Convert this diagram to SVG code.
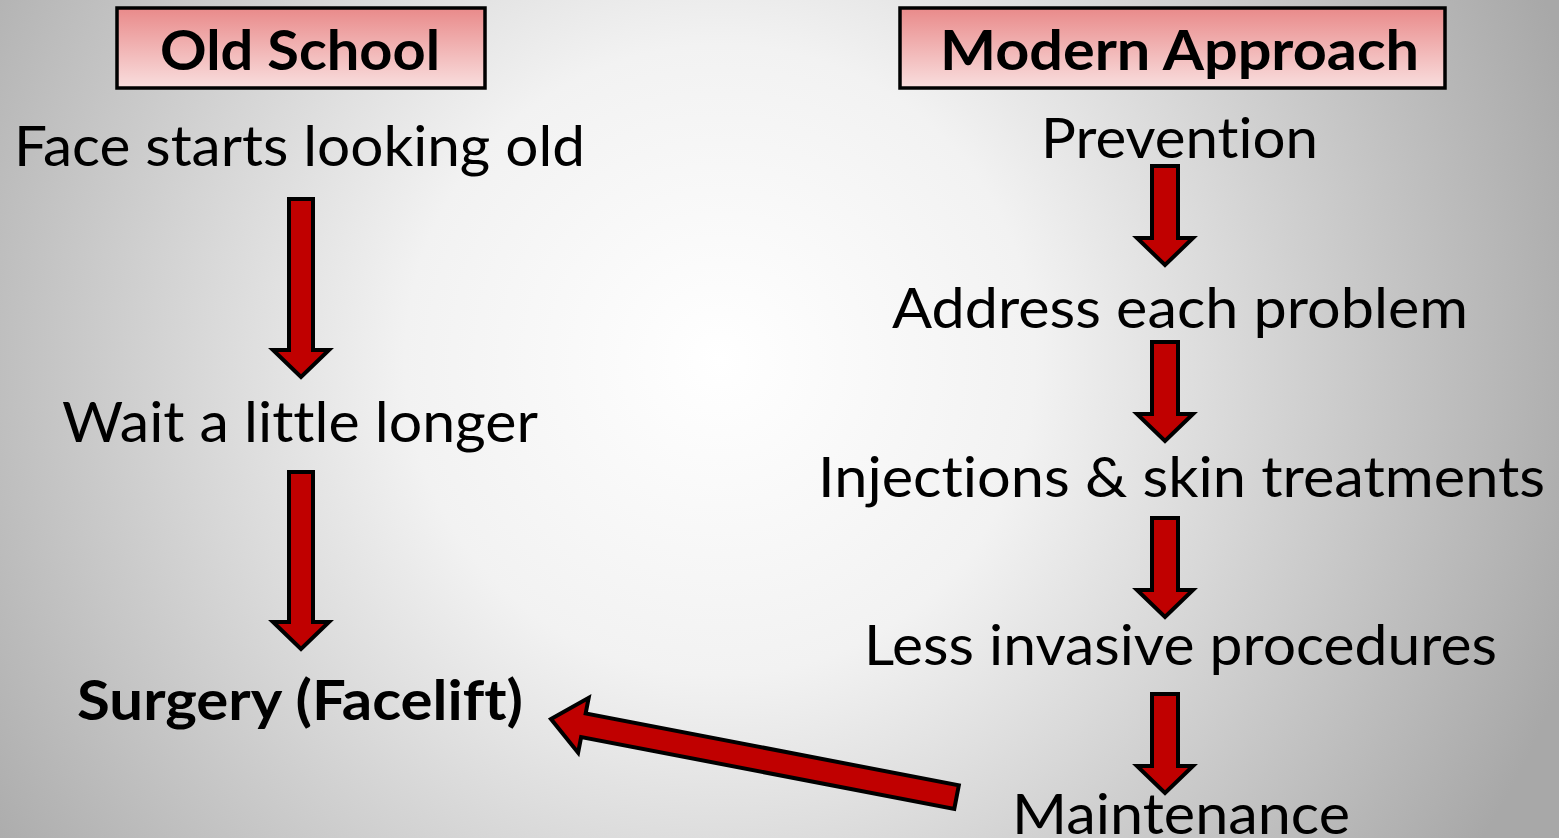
<svg xmlns="http://www.w3.org/2000/svg" width="1559" height="838" viewBox="0 0 1559 838">
<defs>
<radialGradient id="bg" gradientUnits="userSpaceOnUse" cx="720" cy="360" r="900">
<stop offset="0" stop-color="#ffffff"/>
<stop offset="0.35" stop-color="#f2f2f2"/>
<stop offset="1" stop-color="#a8a8a8"/>
</radialGradient>
<linearGradient id="hdr" x1="0" y1="0" x2="0" y2="1">
<stop offset="0" stop-color="#e98a8a"/>
<stop offset="1" stop-color="#f9dede"/>
</linearGradient>
<style>
.t{font-family:Lato,"Liberation Sans",sans-serif;font-size:56px;fill:#000;font-variant-ligatures:none}
.b{font-family:Lato,"Liberation Sans",sans-serif;font-size:56px;font-weight:bold;fill:#000;font-variant-ligatures:none}
.hdr{fill:url(#hdr);stroke:#000;stroke-width:3.5}
.arr{fill:#c00000;stroke:#000;stroke-width:4;stroke-linejoin:miter}
</style>
</defs>
<rect x="0" y="0" width="1559" height="838" fill="url(#bg)"/>

<g id="old-school">
<rect class="hdr" x="117" y="8" width="368" height="80"/>
<text class="b" x="160" y="70" textLength="280" lengthAdjust="spacingAndGlyphs">Old School</text>
</g>
<g id="modern-approach">
<rect class="hdr" x="900" y="8" width="545" height="80"/>
<text class="b" x="940" y="70" textLength="479" lengthAdjust="spacingAndGlyphs">Modern Approach</text>
</g>

<g id="face-old"><text class="t" x="14" y="166" textLength="571" lengthAdjust="spacingAndGlyphs">Face starts looking old</text></g>
<g id="wait"><text class="t" x="62" y="442" textLength="476" lengthAdjust="spacingAndGlyphs">Wait a little longer</text></g>
<g id="surgery"><text class="b" x="77" y="720" textLength="446" lengthAdjust="spacingAndGlyphs">Surgery (Facelift)</text></g>

<g id="prevention"><text class="t" x="1041" y="158" textLength="277" lengthAdjust="spacingAndGlyphs">Prevention</text></g>
<g id="address"><text class="t" x="892" y="328" textLength="576" lengthAdjust="spacingAndGlyphs">Address each problem</text></g>
<g id="injections"><text class="t" x="818" y="497" textLength="727" lengthAdjust="spacingAndGlyphs">Injections &amp; skin treatments</text></g>
<g id="less-invasive"><text class="t" x="864" y="665" textLength="633" lengthAdjust="spacingAndGlyphs">Less invasive procedures</text></g>
<g id="maintenance"><text class="t" x="1012" y="834" textLength="338" lengthAdjust="spacingAndGlyphs">Maintenance</text></g>

<g id="connectors">
<polygon class="arr" points="289,199 313,199 313,350 329,350 301,377 273,350 289,350"/>
<polygon class="arr" points="289,472 313,472 313,622 329,622 301,649 273,622 289,622"/>
<polygon class="arr" points="1152,166 1178,166 1178,238 1193,238 1165,265 1137,238 1152,238"/>
<polygon class="arr" points="1152,342 1178,342 1178,414 1193,414 1165,441 1137,414 1152,414"/>
<polygon class="arr" points="1152,518 1178,518 1178,590 1193,590 1165,617 1137,590 1152,590"/>
<polygon class="arr" points="1152,694 1178,694 1178,766 1193,766 1165,793 1137,766 1152,766"/>
<polygon class="arr" transform="translate(551,719) rotate(10.9)" points="0,0 33,-28 33,-12 413,-12 413,12 33,12 33,28"/>
</g>
</svg>
